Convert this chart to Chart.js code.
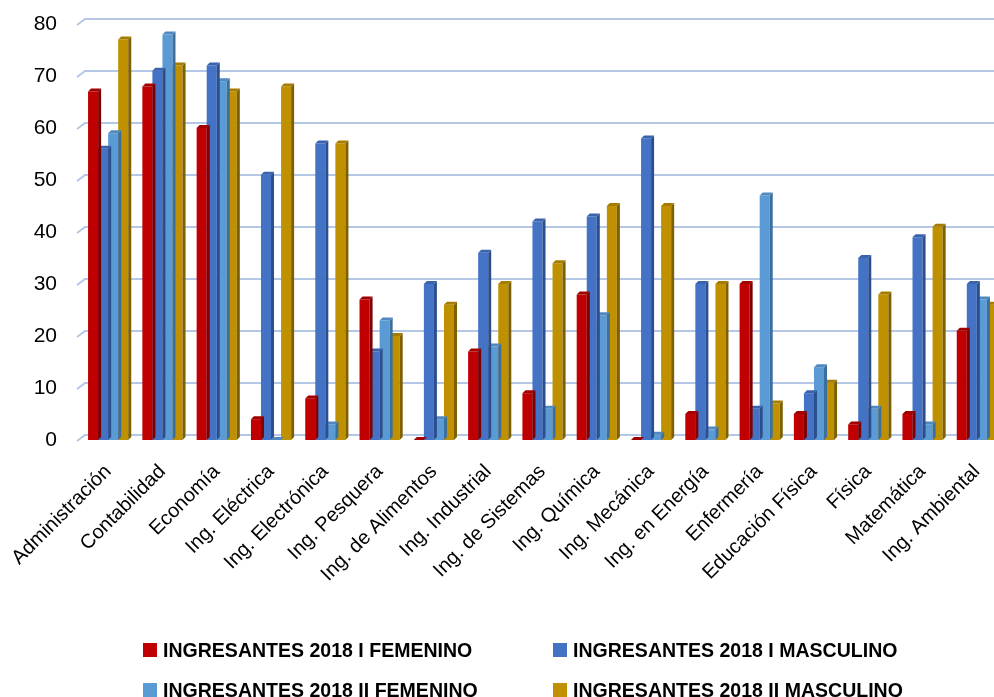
<!DOCTYPE html>
<html>
<head>
<meta charset="utf-8">
<script src="https://cdn.jsdelivr.net/npm/chart.js@4.4.1/dist/chart.umd.min.js"></script>
<style>
  html, body { margin: 0; padding: 0; background: #fff; overflow: hidden; width: 994px; height: 697px; }
  #wrap { position: absolute; left: 0; top: 0; width: 1004px; height: 620px; }
  #legend { position: absolute; left: 0; top: 0; width: 994px; height: 697px; pointer-events: none; }
  .li { position: absolute; display: flex; align-items: center; white-space: nowrap; }
  .sw { width: 14px; height: 14px; margin-right: 6px; flex: none; }
  .tx { font-family: "Liberation Sans", Arial, sans-serif; font-weight: bold; font-size: 21px; color: #000;
        transform: scaleX(0.93); transform-origin: left center; display: inline-block; }
</style>
</head>
<body>
<div id="wrap"><canvas id="c"></canvas></div>
<div id="legend"></div>
<script>
const categories = ["Administración","Contabilidad","Economía","Ing. Eléctrica","Ing. Electrónica","Ing. Pesquera","Ing. de Alimentos","Ing. Industrial","Ing. de Sistemas","Ing. Química","Ing. Mecánica","Ing. en Energía","Enfermería","Educación Física","Física","Matemática","Ing. Ambiental"];
const seriesNames = ["INGRESANTES 2018 I FEMENINO","INGRESANTES 2018 I MASCULINO","INGRESANTES 2018 II FEMENINO","INGRESANTES 2018 II MASCULINO"];
const ingresantes2018IFemenino   = [67,68,60,4,8,27,0,17,9,28,0,5,30,5,3,5,21];
const ingresantes2018IMasculino  = [56,71,72,51,57,17,30,36,42,43,58,30,6,9,35,39,30];
const ingresantes2018IIFemenino  = [59,78,69,0,3,23,4,18,6,24,1,2,47,14,6,3,27];
const ingresantes2018IIMasculino = [77,72,67,68,57,20,26,30,34,45,45,30,7,11,28,41,26];
const yTicks = [0,10,20,30,40,50,60,70,80];

const frontColors = ["#C00000","#4472C4","#5B9BD5","#BF9000"];
const sideColors  = ["#7E0000","#2C4E8C","#3B6F9E","#7F6000"];
const topColors   = ["#A00000","#3A63AE","#4F89C0","#A67C00"];
const values = [ingresantes2018IFemenino, ingresantes2018IMasculino, ingresantes2018IIFemenino, ingresantes2018IIMasculino];

const DEPTH = 3;
const FONT = '"Liberation Sans", Arial, sans-serif';

const gridPlugin = {
  id: 'grid3d',
  beforeDatasetsDraw(chart) {
    const ctx = chart.ctx, ys = chart.scales.y, area = chart.chartArea;
    ctx.save();
    ctx.strokeStyle = '#B4C7E7';
    ctx.lineWidth = 2;
    yTicks.forEach(v => {
      const yf = ys.getPixelForValue(v);
      ctx.beginPath();
      ctx.moveTo(area.left - 4, yf + 1);
      ctx.lineTo(area.left + 4, yf - 5);
      ctx.lineTo(chart.width, yf - 5);
      ctx.stroke();
    });
    ctx.restore();
  }
};

const bar3dPlugin = {
  id: 'bar3d',
  afterDatasetDraw(chart, args) {
    const ctx = chart.ctx;
    const i = args.index;
    ctx.save();
    args.meta.data.forEach(bar => {
      const p = bar.getProps(['x','y','base','width'], true);
      const l = p.x - p.width/2, r = p.x + p.width/2, y = p.y, b = p.base, d = DEPTH;
      ctx.fillStyle = sideColors[i];
      ctx.beginPath();
      ctx.moveTo(r, y); ctx.lineTo(r + d, y - d); ctx.lineTo(r + d, b - d); ctx.lineTo(r, b); ctx.closePath();
      ctx.fill();
      ctx.fillStyle = topColors[i];
      ctx.beginPath();
      ctx.moveTo(l, y); ctx.lineTo(l + d, y - d); ctx.lineTo(r + d, y - d); ctx.lineTo(r, y); ctx.closePath();
      ctx.fill();
    });
    ctx.restore();
  }
};

new Chart(document.getElementById('c'), {
  type: 'bar',
  data: {
    labels: categories,
    datasets: values.map((v, i) => ({
      label: seriesNames[i],
      data: v,
      backgroundColor: frontColors[i],
      borderWidth: 0,
      barPercentage: 1.0,
      categoryPercentage: 0.74
    }))
  },
  options: {
    responsive: true,
    maintainAspectRatio: false,
    animation: false,
    layout: { padding: { top: 24, right: 0, left: 0, bottom: 0 } },
    plugins: { legend: { display: false }, tooltip: { enabled: false } },
    scales: {
      y: {
        min: 0, max: 80,
        afterFit(s) { s.width = 81; s.paddingTop = 0; s.paddingBottom = 0; },
        afterBuildTicks(s) { s.ticks = yTicks.map(v => ({ value: v })); },
        grid: { display: false, drawTicks: false },
        border: { display: false },
        ticks: { padding: 24, color: '#000', font: { family: FONT, size: 21 } }
      },
      x: {
        afterFit(s) { s.height = 180; s.paddingLeft = 0; s.paddingRight = 0; },
        grid: { display: false, drawTicks: false },
        border: { display: false },
        ticks: { autoSkip: false, minRotation: 45, maxRotation: 45, padding: 20, color: '#000',
                 font: { family: FONT, size: 20 } }
      }
    }
  },
  plugins: [gridPlugin, bar3dPlugin]
});

// Legend (2 x 2 grid)
const legendPos = [[143, 650], [553, 650], [143, 690], [553, 690]];
const lg = document.getElementById('legend');
seriesNames.forEach((name, i) => {
  const d = document.createElement('div');
  d.className = 'li';
  d.style.left = legendPos[i][0] + 'px';
  d.style.top = (legendPos[i][1] - 13) + 'px';
  d.style.height = '26px';
  d.innerHTML = '<span class="sw" style="background:' + frontColors[i] + '"></span><span class="tx">' + name + '</span>';
  lg.appendChild(d);
});
</script>
</body>
</html>
